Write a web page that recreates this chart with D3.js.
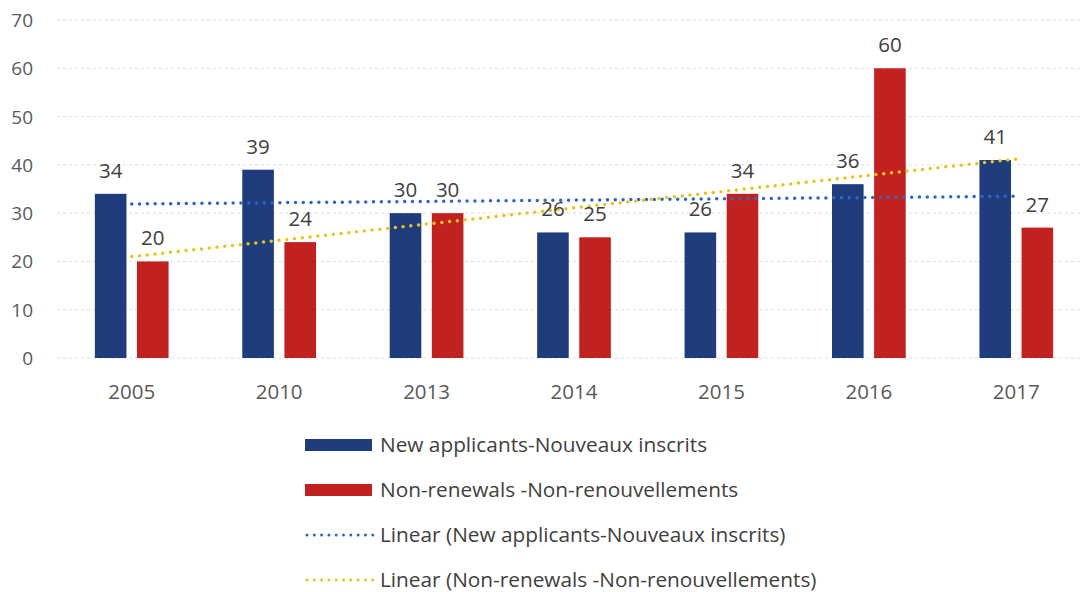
<!DOCTYPE html>
<html>
<head>
<meta charset="utf-8">
<script src="https://cdn.jsdelivr.net/npm/d3@7"></script>
<style>
  body { margin: 0; background: #fff; }
  svg { display: block; font-family: "Open Sans", sans-serif; }
</style>
</head>
<body>
<svg id="chart" width="1083" height="592"></svg>
<script>
// data
const years = ["2005", "2010", "2013", "2014", "2015", "2016", "2017"];
const newApplicants = [34, 39, 30, 26, 26, 36, 41];
const nonRenewals = [20, 24, 30, 25, 34, 60, 27];
// linear trend lines, value at first and last category
const newTrend = [31.9, 33.5];
const nonTrend = [21.0, 41.2];
const yTicks = [0, 10, 20, 30, 40, 50, 60, 70];
const seriesNames = ["New applicants-Nouveaux inscrits", "Non-renewals -Non-renouvellements"];
const trendNames = ["Linear (New applicants-Nouveaux inscrits)", "Linear (Non-renewals -Non-renouvellements)"];

const barColors = ["#1f3d7c", "#c2221f"];
const trendColors = ["#2d66c2", "#e9c31b"];

const svg = d3.select("#chart");

const x0 = d3.scaleBand()
    .domain(years)
    .range([58, 1090])
    .paddingInner(0.5)
    .paddingOuter(0.25);

const x1 = d3.scaleBand()
    .domain([0, 1])
    .range([0, x0.bandwidth()])
    .paddingInner(0.25);

const y = d3.scaleLinear()
    .domain([0, 70])
    .range([358, 20]);

// gridlines
svg.append("g")
    .selectAll("line")
    .data(yTicks)
    .enter().append("line")
    .attr("x1", 57)
    .attr("x2", 1083)
    .attr("y1", d => y(d))
    .attr("y2", d => y(d))
    .attr("stroke", "#dcdde6")
    .attr("stroke-width", 1)
    .attr("stroke-dasharray", "3 3");

// y axis labels
svg.append("g")
    .selectAll("text")
    .data(yTicks)
    .enter().append("text")
    .attr("x", 33)
    .attr("y", d => y(d) + 7)
    .attr("text-anchor", "end")
    .attr("font-size", 19)
    .attr("fill", "#595959")
    .text(d => d);

// x axis labels
svg.append("g")
    .selectAll("text")
    .data(years)
    .enter().append("text")
    .attr("x", d => x0(d) + x0.bandwidth() / 2)
    .attr("y", 399)
    .attr("text-anchor", "middle")
    .attr("font-size", 20.5)
    .attr("fill", "#595959")
    .text(d => d);

const series = [newApplicants, nonRenewals];
const trends = [newTrend, nonTrend];

// bars
series.forEach(function(vals, s){
    svg.append("g")
        .selectAll("rect")
        .data(vals)
        .enter().append("rect")
        .attr("x", (d, i) => x0(years[i]) + x1(s))
        .attr("y", d => y(d))
        .attr("width", x1.bandwidth())
        .attr("height", d => y(0) - y(d))
        .attr("fill", barColors[s]);
});

// trend lines, from first to last category centre
trends.forEach(function(t, s){
    const xa = x0(years[0]) + x0.bandwidth() / 2;
    const xb = x0(years[years.length - 1]) + x0.bandwidth() / 2;
    svg.append("line")
        .attr("x1", xa)
        .attr("y1", y(t[0]))
        .attr("x2", xb)
        .attr("y2", y(t[1]))
        .attr("stroke", trendColors[s])
        .attr("stroke-width", 3.5)
        .attr("stroke-linecap", "round")
        .attr("stroke-dasharray", "0 7.8");
});

// value labels
series.forEach(function(vals, s){
    svg.append("g")
        .selectAll("text")
        .data(vals)
        .enter().append("text")
        .attr("x", (d, i) => x0(years[i]) + x1(s) + x1.bandwidth() / 2)
        .attr("y", d => y(d) - 16)
        .attr("text-anchor", "middle")
        .attr("font-size", 20.5)
        .attr("fill", "#404040")
        .text(d => d);
});

// legend
const legendRows = [
    {name: seriesNames[0], color: barColors[0], type: "bar"},
    {name: seriesNames[1], color: barColors[1], type: "bar"},
    {name: trendNames[0], color: trendColors[0], type: "dot"},
    {name: trendNames[1], color: trendColors[1], type: "dot"}
];

const legend = svg.append("g")
    .selectAll("g")
    .data(legendRows)
    .enter().append("g")
    .attr("transform", (d, i) => "translate(305," + (445 + i * 45) + ")");

legend.filter(d => d.type == "bar")
    .append("rect")
    .attr("x", 0)
    .attr("y", -6)
    .attr("width", 67)
    .attr("height", 12)
    .attr("fill", d => d.color);

legend.filter(d => d.type == "dot")
    .append("line")
    .attr("x1", 2)
    .attr("x2", 68)
    .attr("y1", 0)
    .attr("y2", 0)
    .attr("stroke", d => d.color)
    .attr("stroke-width", 3)
    .attr("stroke-linecap", "round")
    .attr("stroke-dasharray", "0 7.3");

legend.append("text")
    .attr("x", 75)
    .attr("y", 7)
    .attr("font-size", 20.8)
    .attr("fill", "#404040")
    .text(d => d.name);
</script>
</body>
</html>
